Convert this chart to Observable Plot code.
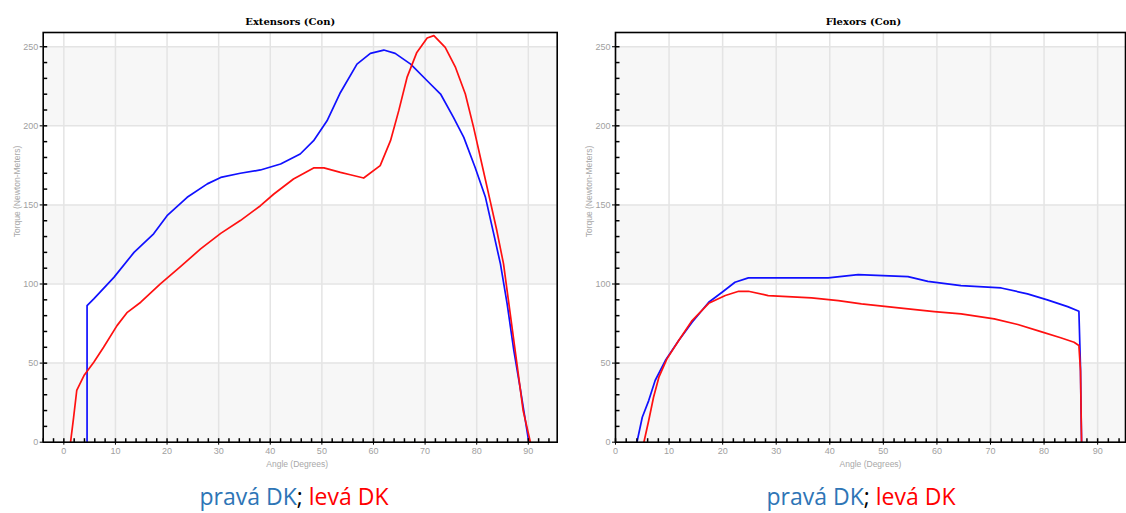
<!DOCTYPE html>
<html><head><meta charset="utf-8">
<script src="https://cdn.jsdelivr.net/npm/d3@7"></script>
<script src="https://cdn.jsdelivr.net/npm/@observablehq/plot@0.6"></script>
<style>
body{margin:0;background:#fff;}
#wrap{position:relative;width:1126px;height:513px;overflow:hidden;background:#fff;}
.panel{position:absolute;top:0;}
.cap{position:absolute;top:481px;font-family:"Open Sans",sans-serif;font-size:23px;line-height:31px;white-space:nowrap;transform:translateX(-50%);}
.b{color:#2E75B6;} .r{color:#FF0000;} .k{color:#000;}
</style></head><body><div id="wrap"></div>
<script>
// ---- Data ----
const seriesNames = ["pravá DK", "levá DK"];
const titles = ["Extensors (Con)", "Flexors (Con)"];
const yLabel = "Torque (Newton-Meters)";
const xLabel = "Angle (Degrees)";

const extPravaAngle  = [4.5, 4.5, 5.8, 9.7, 13.6, 17.4, 20.0, 23.9, 27.8, 30.4, 34.2, 38.1, 42.0, 45.8, 48.4, 51.0, 53.6, 56.8, 59.4, 62.0, 64.2, 67.2, 70.4, 73.0, 75.5, 77.5, 79.7, 81.7, 83.3, 84.6, 85.9, 87.2, 88.5, 90.1];
const extPravaTorque = [0, 86.4, 90.6, 104.2, 120, 131.7, 143.2, 154.8, 163.3, 167.4, 170, 172.1, 175.9, 182.2, 190.6, 203.2, 221.1, 239, 245.8, 247.9, 245.8, 239, 228.5, 220.1, 205.3, 192.7, 173.7, 154.8, 131.7, 112.7, 87.4, 57.9, 32.7, 0];

const extLevaAngle  = [1.3, 1.9, 2.5, 3.9, 5.8, 7.7, 10.3, 12.3, 14.9, 18.7, 22.6, 26.5, 30.4, 34.2, 38.1, 40.7, 44.5, 48.4, 50.4, 53.6, 55.5, 58.1, 61.3, 63.3, 64.9, 66.5, 68.4, 70.4, 71.7, 73.9, 75.9, 77.8, 79.4, 81.0, 82.6, 83.9, 85.2, 86.5, 87.8, 89.0, 90.4];
const extLevaTorque = [0, 15.8, 32.7, 42.1, 50.5, 60, 73.7, 82.1, 88.5, 100.1, 111, 122.2, 132, 140.1, 149.5, 156.9, 166.4, 173.4, 173.4, 170.6, 169.1, 167, 174.8, 190.6, 209.6, 230.6, 246.4, 255.5, 257, 249.6, 236.9, 220.1, 199, 175.9, 152.7, 133.8, 112.7, 81.1, 49.5, 20, 0];

const flexPravaAngle  = [4.0, 5.0, 6.2, 7.4, 9.3, 11.8, 14.3, 17.4, 19.9, 22.3, 24.8, 39.7, 45.3, 54.6, 58.3, 64.5, 72.0, 76.9, 80.6, 84.4, 86.5, 86.8, 86.9, 87.0];
const flexPravaTorque = [0, 15.8, 26.3, 39, 51.6, 64.3, 75.8, 88.5, 94.8, 101.1, 103.9, 103.9, 105.9, 104.7, 101.7, 99, 97.5, 93.8, 90, 85.7, 82.8, 47.4, 20, 0];

const flexLevaAngle  = [5.3, 6.2, 7.1, 8.1, 9.6, 11.8, 14.3, 17.4, 20.5, 23.0, 24.8, 28.5, 36.6, 41.6, 45.9, 53.3, 59.5, 64.5, 70.7, 75.1, 79.4, 83.1, 85.6, 86.5, 86.8, 87.0];
const flexLevaTorque = [0, 13.7, 28.4, 41.1, 52.7, 64.3, 76.9, 87.8, 92.7, 95.4, 95.4, 92.7, 91.2, 89.5, 87.4, 84.7, 82.6, 81.1, 78, 74.4, 69.9, 66, 63.2, 61.1, 45, 0];

const xTicks = [0, 10, 20, 30, 40, 50, 60, 70, 80, 90];
const yTicks = [0, 50, 100, 150, 200, 250];
const bandLo = [0, 100, 200];
const bandHi = [50, 150, 250];

// ---- Drawing ----
function panel({title, xDomain, width, marginLeft, marginRight, pA, pT, lA, lT, titleDx, xLabDx}) {
  const H = 480, mt = 32, mb = 38.3, yMax = 259;
  const plotW = width - marginLeft - marginRight, plotH = H - mt - mb;
  const prava = pA.map((a, i) => ({a, t: pT[i]}));
  const leva = lA.map((a, i) => ({a, t: lT[i]}));
  const bands = bandLo.map((lo, i) => ({lo, hi: bandHi[i]}));
  const minorX = d3.range(Math.ceil(xDomain[0] / 2) * 2, xDomain[1], 2);
  const minorY = d3.range(10, yMax, 10);
  const tickLenY = 4 * yMax / plotH;                       // 4px in y units
  const tickLenX = 4 * (xDomain[1] - xDomain[0]) / plotW;  // 4px in x units
  return Plot.plot({
    width, height: H, marginLeft, marginRight, marginTop: mt, marginBottom: mb,
    x: {domain: xDomain, label: null},
    y: {domain: [0, yMax], label: null},
    style: {fontFamily: "'Liberation Sans', sans-serif", fontSize: "9px", background: "white", overflow: "visible"},
    marks: [
      Plot.rect(bands, {x1: xDomain[0], x2: xDomain[1], y1: "lo", y2: "hi", fill: "#f7f7f7"}),
      Plot.gridX({ticks: xTicks, stroke: "#e4e4e4", strokeOpacity: 1, strokeWidth: 1.5}),
      Plot.gridY({ticks: yTicks, stroke: "#e4e4e4", strokeOpacity: 1, strokeWidth: 1.5}),
      Plot.line(prava, {x: "a", y: "t", stroke: "#1010ff", strokeWidth: 1.7}),
      Plot.line(leva, {x: "a", y: "t", stroke: "#ff1010", strokeWidth: 1.7}),
      Plot.link(minorX, {x1: d => d, x2: d => d, y1: 0, y2: tickLenY, stroke: "black", strokeWidth: 1.5}),
      Plot.link(minorY, {x1: xDomain[0], x2: xDomain[0] + tickLenX, y1: d => d, y2: d => d, stroke: "black", strokeWidth: 1.5}),
      Plot.frame({stroke: "black", strokeWidth: 1.6}),
      Plot.axisX({ticks: xTicks, tickSize: 3, tickPadding: 2, stroke: "black", fill: "#a0a0a0", label: null, fontSize: 9}),
      Plot.axisY({ticks: yTicks, tickSize: 3, tickPadding: 2, stroke: "black", fill: "#a0a0a0", label: null, fontSize: 9}),
      Plot.text([title], {frameAnchor: "top", dy: -15, dx: titleDx, fontFamily: "'DejaVu Serif', serif", fontWeight: "bold", fontSize: 10, fill: "black"}),
      Plot.text([yLabel], {frameAnchor: "left", rotate: -90, dx: -26, fill: "#a8a8a8", fontSize: 8.5}),
      Plot.text([xLabel], {frameAnchor: "bottom", dy: 25, dx: xLabDx, fill: "#a8a8a8", fontSize: 8.5})
    ]
  });
}

const wrap = document.getElementById("wrap");
const left = panel({title: titles[0], xDomain: [-4, 95.6], width: 565, marginLeft: 42.7, marginRight: 8.3,
  pA: extPravaAngle, pT: extPravaTorque, lA: extLevaAngle, lT: extLevaTorque, titleDx: -10, xLabDx: -3});
left.classList.add("panel"); left.style.left = "0px";
wrap.appendChild(left);
const right = panel({title: titles[1], xDomain: [0, 95.2], width: 556, marginLeft: 45, marginRight: 1,
  pA: flexPravaAngle, pT: flexPravaTorque, lA: flexLevaAngle, lT: flexLevaTorque, titleDx: -7, xLabDx: 0});
right.classList.add("panel"); right.style.left = "570px";
wrap.appendChild(right);

function caption(cx) {
  const d = document.createElement("div");
  d.className = "cap";
  d.style.left = cx + "px";
  d.innerHTML = `<span class="b">${seriesNames[0]}</span><span class="k">; </span><span class="r">${seriesNames[1]}</span>`;
  wrap.appendChild(d);
}
caption(294);
caption(861);
</script>
</body></html>
